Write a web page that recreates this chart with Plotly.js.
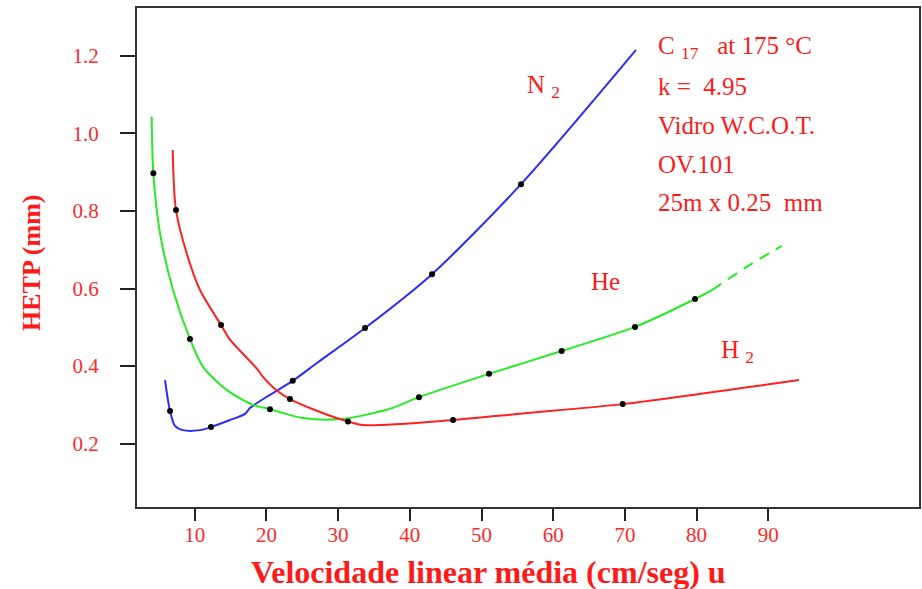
<!DOCTYPE html>
<html>
<head>
<meta charset="utf-8">
<script src="https://cdn.plot.ly/plotly-3.0.1.min.js"></script>
<style>html,body{margin:0;padding:0;background:#fff;}#chart{width:922px;height:589px;}</style>
</head>
<body>
<div id="chart"></div>
<script>
// ---- Data ----
// N2 curve (blue)
const n2LineX = [5.86, 6.56, 7.25, 8.37, 10.74, 12.27, 14.92, 17.02, 17.71, 20.50, 23.67, 27.06, 33.75, 43.10, 55.51, 71.55];
const n2LineY = [0.364, 0.284, 0.246, 0.235, 0.235, 0.243, 0.261, 0.277, 0.292, 0.326, 0.362, 0.408, 0.498, 0.637, 0.869, 1.215];
const n2PtsX = [6.56, 12.27, 23.67, 33.75, 43.10, 55.51];
const n2PtsY = [0.284, 0.243, 0.362, 0.498, 0.637, 0.869];

// He curve (green), solid part and dashed extrapolation
const heLineX = [4.00, 4.23, 5.16, 6.97, 9.34, 11.16, 14.50, 18.13, 20.50, 25.10, 30.68, 37.24, 41.28, 51.05, 61.18, 71.41, 79.78, 82.15];
const heLineY = [1.043, 0.897, 0.743, 0.597, 0.470, 0.398, 0.338, 0.300, 0.289, 0.266, 0.264, 0.290, 0.320, 0.380, 0.439, 0.501, 0.573, 0.596];
const heDashX = [82.15, 86.75, 91.87];
const heDashY = [0.596, 0.653, 0.710];
const hePtsX = [4.23, 9.34, 20.50, 41.28, 51.05, 61.18, 71.41, 79.78];
const hePtsY = [0.897, 0.470, 0.289, 0.320, 0.380, 0.439, 0.501, 0.573];

// H2 curve (red)
const h2LineX = [6.93, 7.39, 8.88, 10.74, 13.67, 14.92, 18.65, 19.53, 21.44, 23.29, 27.02, 31.38, 33.47, 46.03, 55.79, 69.69, 94.28];
const h2LineY = [0.957, 0.802, 0.691, 0.596, 0.506, 0.468, 0.394, 0.372, 0.337, 0.315, 0.285, 0.257, 0.248, 0.261, 0.278, 0.302, 0.364];
const h2PtsX = [7.39, 13.67, 23.29, 31.38, 46.03, 69.69];
const h2PtsY = [0.802, 0.506, 0.315, 0.257, 0.261, 0.302];

const xTickVals = [10, 20, 30, 40, 50, 60, 70, 80, 90];
const yTickVals = [0.2, 0.4, 0.6, 0.8, 1.0, 1.2];

const infoLines = ["C <sub>17</sub>&nbsp;&nbsp; at 175 °C", "k =&nbsp; 4.95", "Vidro W.C.O.T.", "OV.101", "25m x 0.25&nbsp; mm"];

// ---- Styling ----
const BLUE = '#2b2bff', GREEN = '#25ec25', RED = '#ff2020', TXT = '#ff1a1a';
const W = 922, H = 589, L = 137, R = 3, T = 8, B = 82;
const pw = W - L - R, ph = H - T - B;
const px = v => (v - L) / pw;
const py = v => (H - B - v) / ph;

function line(x, y, color, dash) {
  return {x: x, y: y, type: 'scatter', mode: 'lines', hoverinfo: 'skip',
    line: {color: color, width: 2, shape: 'spline', smoothing: 0.8, dash: dash || 'solid'}};
}
function pts(x, y) {
  return {x: x, y: y, type: 'scatter', mode: 'markers', marker: {color: '#000', size: 6}};
}

const data = [
  line(n2LineX, n2LineY, BLUE),
  line(heLineX, heLineY, GREEN),
  line(heDashX, heDashY, GREEN, '11px,8px'),
  line(h2LineX, h2LineY, RED),
  pts(n2PtsX, n2PtsY), pts(hePtsX, hePtsY), pts(h2PtsX, h2PtsY)
];

const serif = 'Liberation Serif, Times New Roman, serif';
const annotations = [
  {text: '<b>Velocidade linear média (cm/seg) u</b>', xref: 'paper', yref: 'paper', x: px(488), y: py(572),
   xanchor: 'center', yanchor: 'middle', showarrow: false, font: {family: serif, size: 32, color: TXT}},
  {text: '<b>HETP (mm)</b>', xref: 'paper', yref: 'paper', x: px(31), y: py(263), textangle: -90,
   xanchor: 'center', yanchor: 'middle', showarrow: false, font: {family: serif, size: 26, color: TXT}},
  {text: 'N <sub>2</sub>', xref: 'paper', yref: 'paper', x: px(525), y: py(86),
   xanchor: 'left', yanchor: 'middle', showarrow: false, font: {family: serif, size: 25, color: TXT}},
  {text: 'He', xref: 'paper', yref: 'paper', x: px(589), y: py(281),
   xanchor: 'left', yanchor: 'middle', showarrow: false, font: {family: serif, size: 25, color: TXT}},
  {text: 'H <sub>2</sub>', xref: 'paper', yref: 'paper', x: px(719), y: py(351),
   xanchor: 'left', yanchor: 'middle', showarrow: false, font: {family: serif, size: 25, color: TXT}}
];
const infoY = [48, 86, 125, 164, 203];
infoLines.forEach((t, i) => annotations.push({
  text: t, xref: 'paper', yref: 'paper', x: px(656), y: py(infoY[i]),
  xanchor: 'left', yanchor: 'middle', showarrow: false, font: {family: serif, size: 25, color: TXT}
}));

const layout = {
  width: W, height: H,
  margin: {l: L, r: R, t: T, b: B, pad: 0},
  paper_bgcolor: '#fff', plot_bgcolor: '#fff',
  showlegend: false,
  xaxis: {range: [(137 - 123) / 7.17, (919 - 123) / 7.17], tickvals: xTickVals,
    showgrid: false, zeroline: false, showline: true, mirror: true, linecolor: '#333', linewidth: 2,
    ticks: 'outside', ticklen: 12, tickwidth: 2, tickcolor: '#222', ticklabelstandoff: -4,
    tickfont: {family: serif, size: 21, color: '#ff2a2a'}, automargin: false},
  yaxis: {range: [(521.3 - 507) / 388, (521.3 - 8) / 388], tickvals: yTickVals, tickformat: '.1f',
    showgrid: false, zeroline: false, showline: true, mirror: true, linecolor: '#333', linewidth: 2,
    ticks: 'outside', ticklen: 15, tickwidth: 2, tickcolor: '#222', ticklabelstandoff: 17,
    tickfont: {family: serif, size: 21, color: '#ff2a2a'}, automargin: false},
  annotations: annotations
};

Plotly.newPlot('chart', data, layout, {staticPlot: true, displayModeBar: false});
</script>
</body>
</html>
